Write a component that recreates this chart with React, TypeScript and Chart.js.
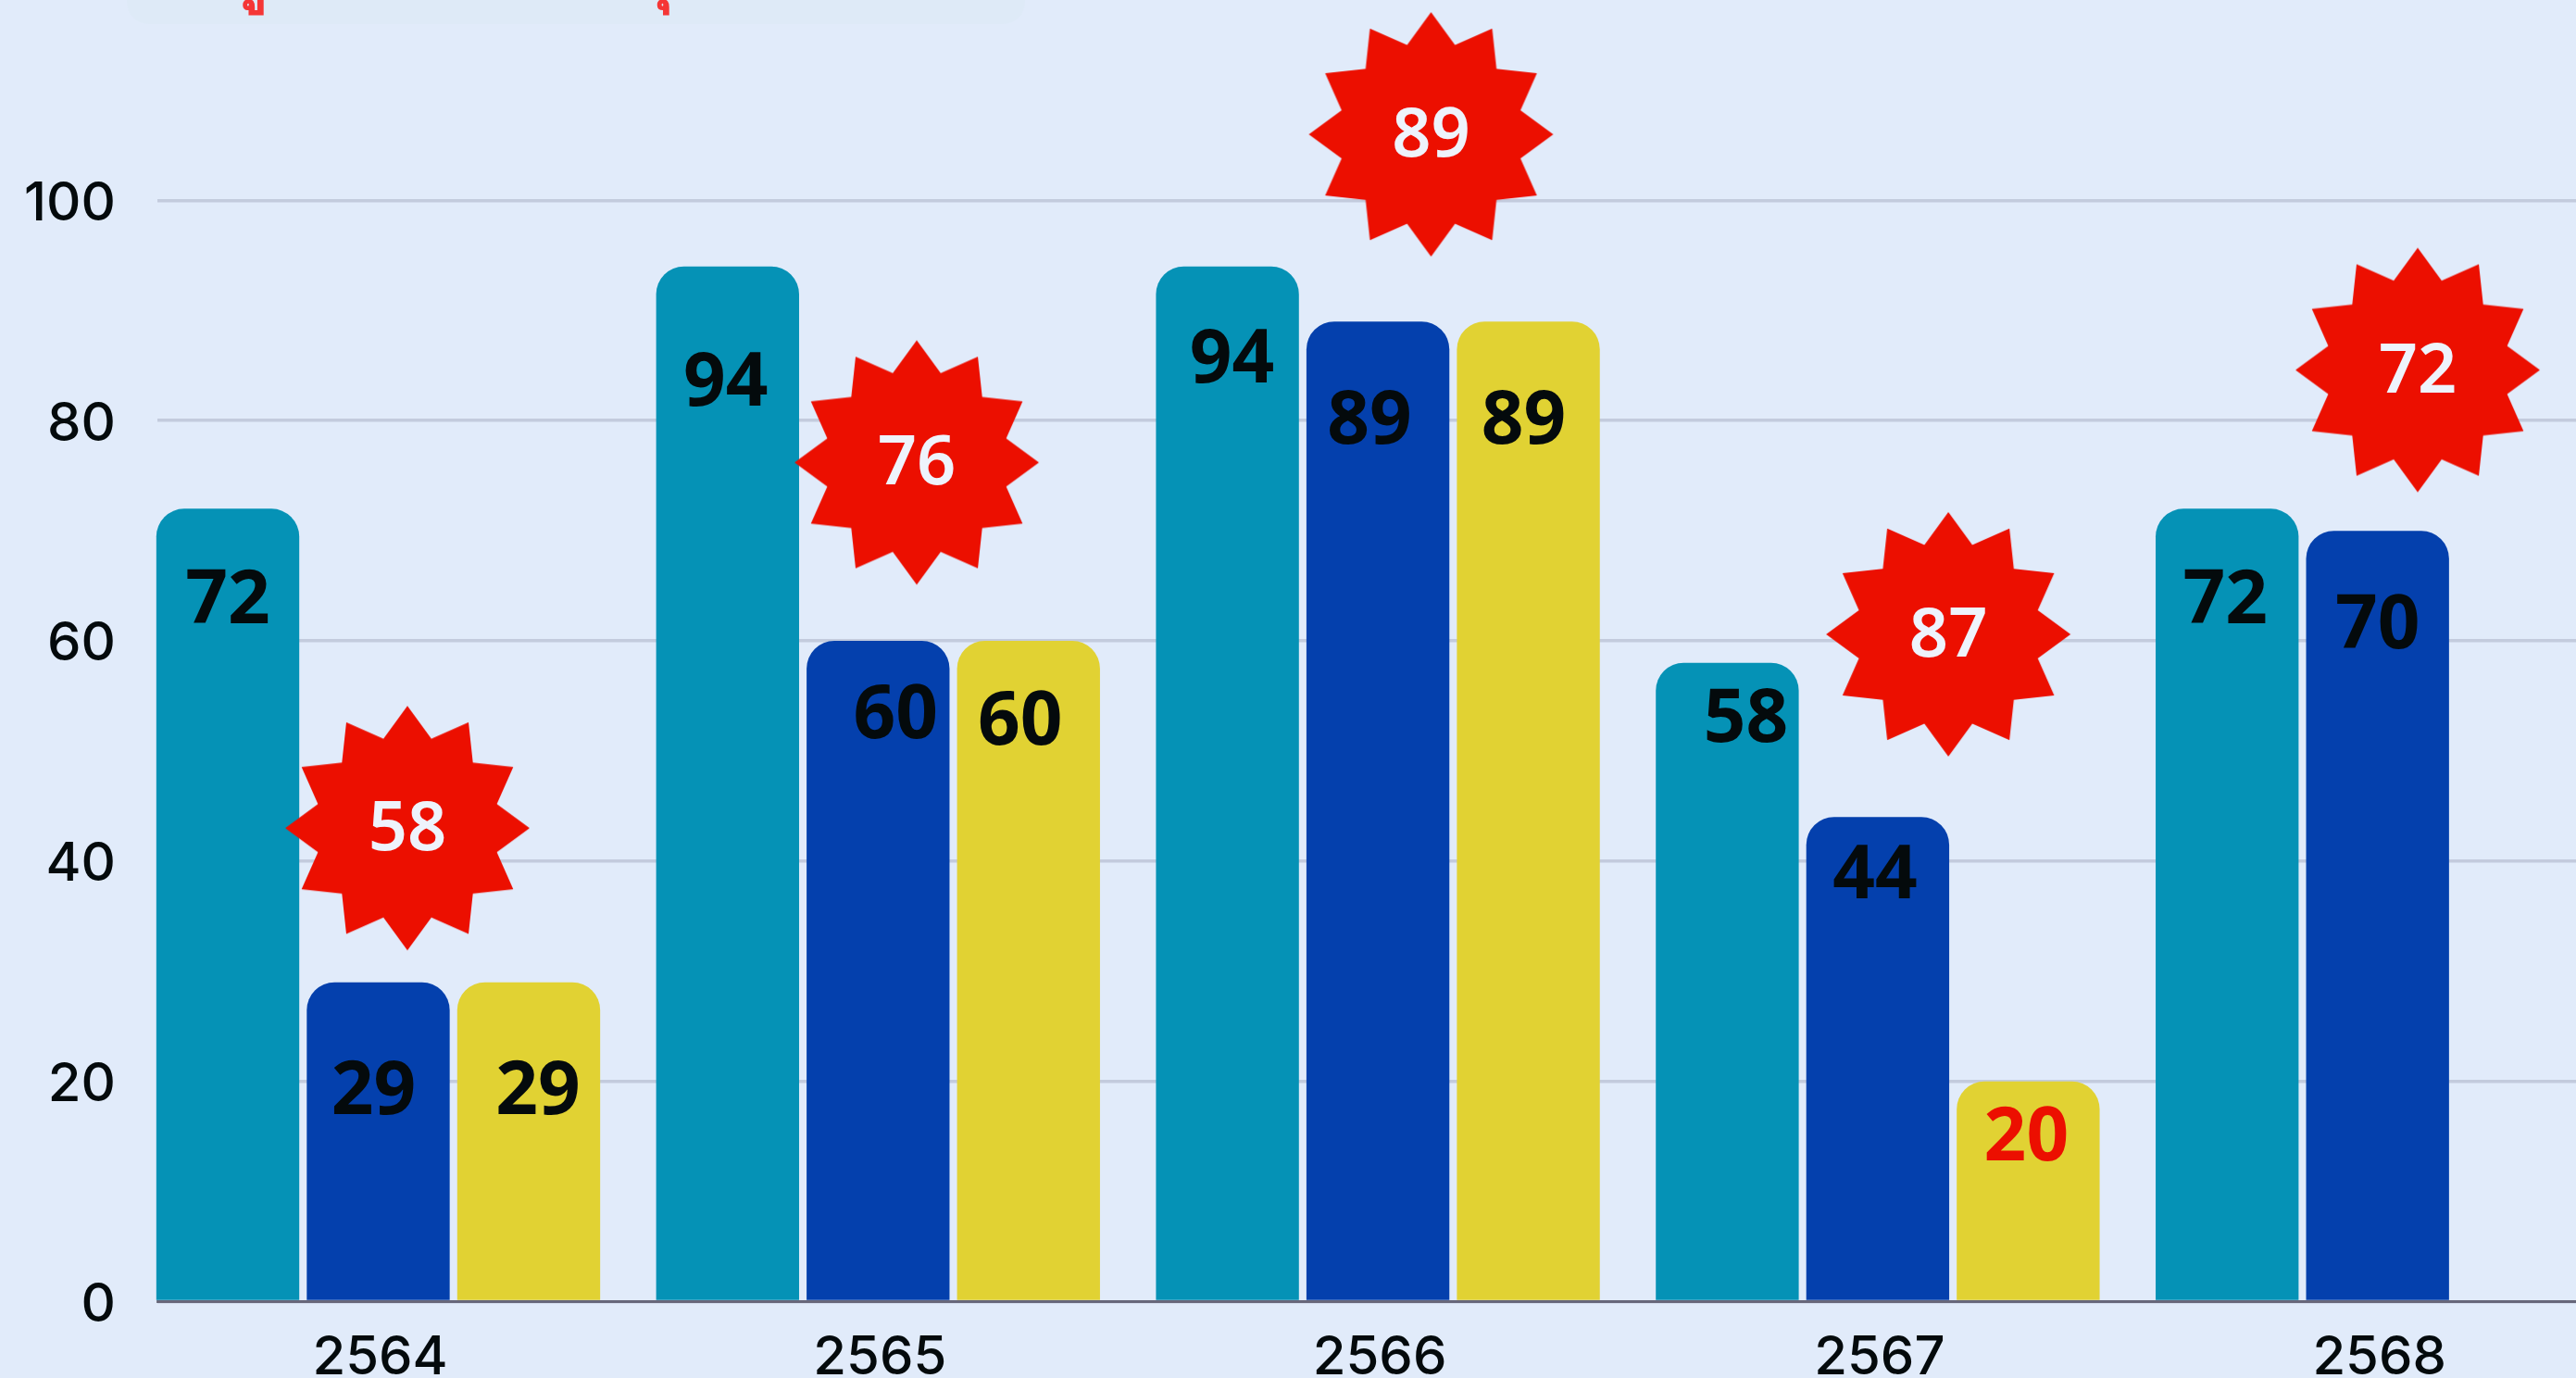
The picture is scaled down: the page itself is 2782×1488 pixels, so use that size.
import React, { useEffect, useRef } from "react";
import { Chart, registerables } from "chart.js";

Chart.register(...registerables);

const years = ["2564", "2565", "2566", "2567", "2568"];
const teal = [72, 94, 94, 58, 72];
const blue = [29, 60, 89, 44, 70];
const yellow = [29, 60, 89, 20, null];
const badgeValues = [58, 76, 89, 87, 72];
// where each badge sits, in axis units
const badgeX = [0.0583, 0.0773, 0.1063, 0.1413, 0.0803];
const badgeY = [43, 76.2, 106, 60.6, 84.6];
const yTicks = [0, 20, 40, 60, 80, 100];

// hand-placed nudges of the value labels, relative to (bar centre, bar top)
const tealNudge = [[0, 101], [-2, 127], [5, 102], [20, 62], [-2, 101]];
const blueNudge = [[-5, 120], [19, 82], [-9, 109], [-3, 65], [0, 104]];
const yellowNudge = [[10, 120], [-9, 89], [-5, 109], [-2, 63], [0, 0]];
const nudges = [tealNudge, blueNudge, yellowNudge];

const W = 2782;
const H = 1488;
const BG = "#e1ebfa";
const INK = "#040a0c";
const RED = "#ec0f00";

function makeStar() {
  const c = document.createElement("canvas");
  const R = 132;
  const r = 100;
  c.width = c.height = 2 * R + 4;
  const g = c.getContext("2d")!;
  const m = c.width / 2;
  g.fillStyle = RED;
  g.beginPath();
  for (let i = 0; i < 24; i++) {
    const a = (-90 + i * 15) * (Math.PI / 180);
    const q = i % 2 === 0 ? R : r;
    const px = m + q * Math.cos(a);
    const py = m + q * Math.sin(a);
    if (i === 0) g.moveTo(px, py);
    else g.lineTo(px, py);
  }
  g.closePath();
  g.fill();
  return c;
}

const backdrop = {
  id: "backdrop",
  beforeDraw(chart: any) {
    const g = chart.ctx;
    g.save();
    g.fillStyle = BG;
    g.fillRect(0, 0, W, H);
    g.fillStyle = "#deeaf7";
    g.beginPath();
    g.roundRect(137, -40, 970, 66, 24);
    g.fill();
    g.fillStyle = "#f53636";
    g.font = '600 70px "Noto Sans", "DejaVu Sans", sans-serif';
    g.textBaseline = "alphabetic";
    g.textAlign = "center";
    g.fillText("ู", 289, -3);
    g.fillText("ุ", 727, -3);
    g.restore();
  },
};

const labels = {
  id: "labels",
  afterDatasetsDraw(chart: any) {
    const g = chart.ctx;
    g.save();
    g.textAlign = "center";
    g.textBaseline = "middle";
    g.font = '700 80px "Noto Sans", sans-serif';
    [teal, blue, yellow].forEach((series, d) => {
      const meta = chart.getDatasetMeta(d);
      series.forEach((v, i) => {
        if (v === null) return;
        const bar = meta.data[i];
        const [dx, dy] = nudges[d][i];
        g.fillStyle = d === 2 && v === 20 ? RED : INK;
        g.fillText(String(v), bar.x + dx, bar.y + dy);
      });
    });
    const meta = chart.getDatasetMeta(3);
    g.font = '600 74px "Noto Sans", sans-serif';
    g.fillStyle = "#eef3fc";
    badgeValues.forEach((v, i) => {
      const p = meta.data[i];
      g.fillText(String(v), p.x, p.y + 3);
    });
    g.restore();
  },
};

export default function App() {
  const ref = useRef<HTMLCanvasElement>(null);
  useEffect(() => {
    const xy = (arr: (number | null)[]) => arr.map((y, i) => ({ x: i, y }));
    const chart = new Chart(ref.current!, {
      type: "bar",
      data: {
        labels: years,
        datasets: [
          { data: xy(teal), backgroundColor: "#0592b6", clip: false },
          { data: xy(blue), backgroundColor: "#0440ad", clip: false },
          { data: xy(yellow), backgroundColor: "#e1d233", clip: false },
          {
            type: "line",
            order: -1,
            data: badgeValues.map((_, i) => ({ x: i + badgeX[i], y: badgeY[i] })),
            showLine: false,
            pointStyle: makeStar(),
            pointRadius: 132,
            clip: false,
          },
        ],
      } as any,
      plugins: [backdrop, labels],
      options: {
        responsive: false,
        animation: false,
        devicePixelRatio: 1,
        layout: { padding: 0, autoPadding: false },
        plugins: { legend: { display: false }, tooltip: { enabled: false }, title: { display: false } },
        datasets: {
          bar: {
            categoryPercentage: 0.903,
            barPercentage: 0.95,
            borderRadius: { topLeft: 30, topRight: 30, bottomLeft: 0, bottomRight: 0 },
            borderSkipped: false,
          },
        },
        scales: {
          x: {
            type: "linear",
            offset: false,
            bounds: "data",
            min: -0.4418,
            max: 4.397,
            afterFit(s: any) {
              s.height = H - 1405.5;
              s.paddingLeft = s.paddingRight = s.paddingTop = s.paddingBottom = 0;
            },
            afterBuildTicks(s: any) {
              s.ticks = years.map((_, i) => ({ value: i }));
            },
            grid: { display: false, offset: false },
            border: { display: true, color: "rgba(47,42,62,0.62)", width: 3, z: 1 },
            ticks: {
              autoSkip: false,
              maxRotation: 0,
              padding: 18,
              labelOffset: 2,
              color: INK,
              font: { family: "Inter", size: 58, weight: "500" },
              callback: (v: any) => years[v],
            },
          },
          y: {
            type: "linear",
            bounds: "data",
            min: 0,
            max: 118.2,
            afterFit(s: any) {
              s.width = 170;
              s.paddingLeft = s.paddingRight = s.paddingTop = s.paddingBottom = 0;
            },
            afterBuildTicks(s: any) {
              s.ticks = yTicks.map((value) => ({ value }));
            },
            grid: { color: "#c3cbdd", lineWidth: 3.5, drawTicks: false },
            border: { display: false },
            ticks: {
              padding: 45,
              labelOffset: 4,
              color: INK,
              font: { family: "Inter", size: 58, weight: "500" },
            },
          },
        },
      } as any,
    });
    return () => chart.destroy();
  }, []);
  return (
    <div style={{ position: "fixed", left: 0, top: 0, width: W, height: H, overflow: "hidden", background: BG }}>
      <canvas ref={ref} width={W} height={H} style={{ display: "block" }} />
    </div>
  );
}
